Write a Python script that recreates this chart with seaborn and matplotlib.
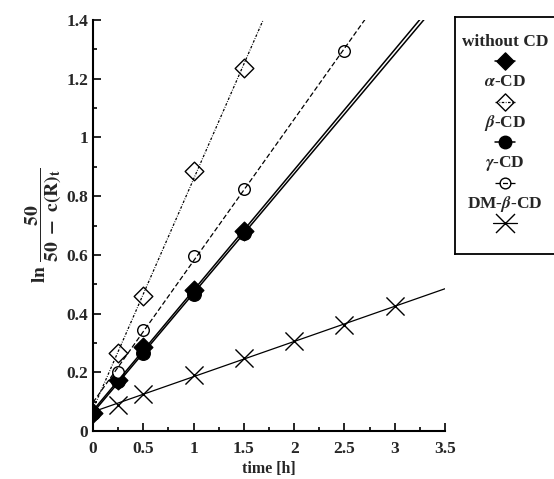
import numpy as np
import matplotlib
matplotlib.use("Agg")
import matplotlib.pyplot as plt
import seaborn as sns

# values
t_without = [0, 0.25, 0.5, 1, 1.5]
y_without = [0.06, 0.175, 0.285, 0.48, 0.68]
t_alpha = [0.25, 0.5, 1, 1.5]
y_alpha = [0.265, 0.46, 0.885, 1.235]
t_beta = [0, 0.25, 0.5, 1, 1.5]
y_beta = [0.06, 0.17, 0.265, 0.465, 0.675]
t_gamma = [0.25, 0.5, 1, 1.5, 2.5]
y_gamma = [0.2, 0.345, 0.595, 0.825, 1.295]
t_dm = [0.25, 0.5, 1, 1.5, 2, 2.5, 3]
y_dm = [0.09, 0.125, 0.19, 0.25, 0.305, 0.36, 0.425]

labels = ["without CD", r"$\alpha$-CD", r"$\beta$-CD", r"$\gamma$-CD", r"DM-$\beta$-CD"]

sns.set_style("ticks")
plt.rcParams['font.family'] = ['Liberation Serif', 'DejaVu Serif']
plt.rcParams['font.weight'] = 'bold'
plt.rcParams['mathtext.fontset'] = 'stix'

series = [
    # t, y, marker, face, size, linestyle, lw
    (t_without, y_without, 'D', 'black', 90, '-', 1.1),
    (t_alpha, y_alpha, 'D', 'white', 90, (0, (2, 1.2, 0.6, 1.2)), 0.9),
    (t_beta, y_beta, 'o', 'black', 95, '-', 1.1),
    (t_gamma, y_gamma, 'o', 'white', 70, (0, (4, 2)), 0.9),
    (t_dm, y_dm, 'x', 'black', 170, '-', 0.9),
]

fig = plt.figure(figsize=(5.54, 4.79), dpi=100)
ax = fig.add_axes([93 / 554, 48 / 479, 352 / 554, 411 / 479])

xfit = np.array([0, 3.5])
for t, y, m, fc, s, ls, lw in series:
    k, b = np.polyfit(t, y, 1)
    sns.lineplot(x=xfit, y=k * xfit + b, color='black', linestyle=ls, linewidth=lw, ax=ax, zorder=4)
    if m == 'x':
        sns.scatterplot(x=t, y=y, marker='x', color='black', s=s, linewidth=1.0, ax=ax, zorder=3)
    else:
        sns.scatterplot(x=t, y=y, marker=m, facecolor=fc, edgecolor='black', s=s,
                        linewidth=1.0, ax=ax, zorder=3)

ax.set_xlim(0, 3.5)
ax.set_ylim(0, 1.4)
ax.set_xticks(np.arange(0, 3.51, 0.5))
ax.set_xticklabels(['0', '0.5', '1', '1.5', '2', '2.5', '3', '3.5'])
ax.set_xticks(np.arange(0, 3.51, 0.25), minor=True)
ax.set_yticks(np.arange(0, 1.41, 0.2))
ax.set_yticklabels(['0', '0.2', '0.4', '0.6', '0.8', '1', '1.2', '1.4'])
ax.set_yticks(np.arange(0, 1.41, 0.1), minor=True)
ax.tick_params(which='both', direction='in', labelsize=12.5, width=1.2, color='black')
ax.tick_params(which='major', length=6)
ax.tick_params(which='minor', length=3)
ax.tick_params(axis='x', pad=7)
for lab in ax.get_xticklabels() + ax.get_yticklabels():
    lab.set_fontweight('bold')
for sp in ['left', 'bottom']:
    ax.spines[sp].set_linewidth(1.5)
    ax.spines[sp].set_color('black')
sns.despine(ax=ax)
ax.set_xlabel('time [h]', fontsize=11.5, fontweight='bold', labelpad=3)
ax.set_ylabel(r'$\mathbf{ln}\ \dfrac{\mathbf{50}}{\mathbf{50\ -\ c(R)}_{\mathbf{t}}}$',
              fontsize=14, labelpad=2)

# legend box, labels above their symbols
lax = fig.add_axes([455 / 554, 1 - 254 / 479, 100 / 554, 237 / 479])
lax.set_xlim(0, 1)
lax.set_ylim(237, 0)
lax.set_xticks([])
lax.set_yticks([])
for sp in lax.spines.values():
    sp.set_linewidth(1.3)
    sp.set_color('black')
for i, (lab, (t, y, m, fc, s, ls, lw)) in enumerate(zip(labels, series)):
    ty = 25 + i * 40.5
    my = ty + 19
    lax.text(0.5, ty, lab, ha='center', va='center', fontsize=12.5, fontweight='bold')
    if m != 'x':
        lax.plot([0.4, 0.6], [my, my], color='black', linestyle=ls, linewidth=lw, zorder=4)
        lax.scatter([0.5], [my], marker=m, facecolor=fc, edgecolor='black', s=s * 0.85, linewidth=1.0, zorder=3)
    else:
        lax.scatter([0.5], [my], marker='x', color='black', s=s * 1.1, linewidth=1.0, zorder=3)
        lax.plot([0.38, 0.62], [my, my], color='black', linewidth=lw)

fig.savefig('out.png', dpi=100)
